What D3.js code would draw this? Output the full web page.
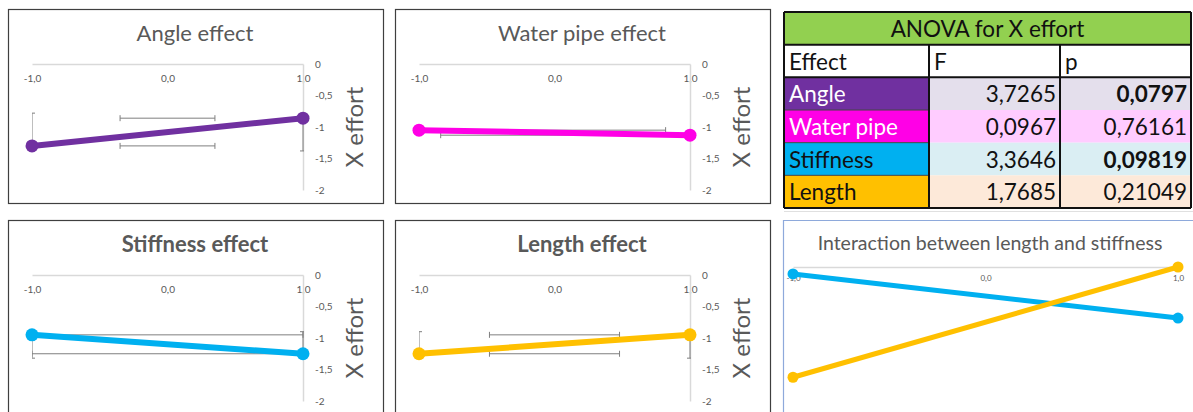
<!DOCTYPE html>
<html>
<head>
<meta charset="utf-8">
<script src="https://cdn.jsdelivr.net/npm/d3@7"></script>
<style>
  body { margin: 0; background: #fff; }
  svg { display: block; font-family: Lato, "Open Sans", sans-serif; }
</style>
</head>
<body>
<svg id="chart" width="1193" height="412"></svg>
<script>
// levels of each factor (coded)
const levels = [-1, 1];
const xTicks = [-1, 0, 1];
const yTicks = [0, -0.5, -1, -1.5, -2];

// mean X effort per level
const angleMeans = [-1.30, -0.86];
const pipeMeans = [-1.05, -1.13];
const stiffMeans = [-0.95, -1.25];
const lengthMeans = [-1.25, -0.95];

// error bars: vertical [from, to] per level, horizontal [x0, x1] per point
const angleErrY = [[-1.30, -0.78], [-0.86, -1.38]];
const angleErrX = [[-0.35, 0.35], [-0.35, 0.35]];
const pipeErrY = [];
const pipeErrX = [[-1, 0.82], [-0.84, 1]];
const stiffErrY = [[-0.95, -1.32], [-1.25, -0.90]];
const stiffErrX = [[-1, 1], [-1, 1]];
const lengthErrY = [[-1.25, -0.90], [-0.95, -1.32]];
const lengthErrX = [[-0.48, 0.48], [-0.48, 0.48]];

// interaction length x stiffness
const interStiff = [-0.11, -0.81];
const interLength = [-1.75, 0.0];

// ANOVA table
const effects = ['Angle', 'Water pipe', 'Stiffness', 'Length'];
const fValues = [3.7265, 0.0967, 3.3646, 1.7685];
const pValues = [0.0797, 0.76161, 0.09819, 0.21049];
const effectColors = ['#7030A0', '#FF00E6', '#00B0F0', '#FFC000'];
const effectText = ['#fff', '#fff', '#111', '#111'];
const cellColors = ['#E4DFEC', '#FFCCFF', '#DAEEF3', '#FDE9D9'];

const svg = d3.select('#chart');
const grey = '#595959';
const locale = d3.formatLocale({decimal: ',', thousands: '.', grouping: [3], currency: ['', ''], minus: '-'});
const fmtX = locale.format('.1f');
const fmtY = locale.format('~f');
const comma = (v) => String(v).replace('.', ',');

svg.append('rect').attr('width', 1193).attr('height', 412).attr('fill', '#fff');

let clipId = 0;

function drawEffect(box, title, bold, means, errY, errX, color) {
    const g = svg.append('g');
    g.append('rect')
        .attr('x', box.x + 0.5).attr('y', box.y + 0.5)
        .attr('width', box.w).attr('height', box.h)
        .attr('fill', '#fff').attr('stroke', '#3f3f3f').attr('stroke-width', 1.2);

    g.append('text')
        .attr('x', box.x + 187).attr('y', box.y + 32)
        .attr('text-anchor', 'middle')
        .attr('font-size', 22).attr('font-weight', bold ? 'bold' : 'normal')
        .attr('fill', grey)
        .text(title);

    const x = d3.scaleLinear().domain([-1, 1]).range([box.x + 24, box.x + 295]);
    const y = d3.scaleLinear().domain([0, -2]).range([box.y + 55, box.y + 181]);

    const xAxis = g.append('g')
        .attr('transform', `translate(0,${y(0)})`)
        .call(d3.axisBottom(x).tickValues(xTicks).tickSize(0).tickPadding(11).tickFormat(fmtX));
    const yAxis = g.append('g')
        .attr('transform', `translate(${x(1)},0)`)
        .call(d3.axisRight(y).tickValues(yTicks).tickSize(0).tickPadding(12).tickFormat(fmtY));
    [xAxis, yAxis].forEach((a) => {
        a.select('.domain').attr('stroke', '#d9d9d9').attr('stroke-width', 1.5);
        a.selectAll('text').attr('fill', grey).attr('font-size', 10).attr('font-family', 'Lato, sans-serif');
    });

    g.append('text')
        .attr('transform', `translate(${box.x + 345},${y(-1)}) rotate(-90)`)
        .attr('text-anchor', 'middle').attr('dominant-baseline', 'central')
        .attr('font-size', 24).attr('fill', grey)
        .text('X effort');

    const id = 'clip' + (clipId++);
    g.append('clipPath').attr('id', id)
        .append('rect').attr('x', x(-1)).attr('y', box.y).attr('width', x(1) - x(-1) + 1).attr('height', box.h);

    const err = g.append('g').attr('clip-path', `url(#${id})`)
        .attr('stroke', '#7f7f7f').attr('stroke-width', 1).attr('fill', 'none');
    errY.forEach((e, i) => {
        const cx = x(levels[i]);
        err.append('line').attr('x1', cx).attr('x2', cx).attr('y1', y(e[0])).attr('y2', y(e[1]));
        e.forEach((v) => err.append('line').attr('x1', cx - 3).attr('x2', cx + 3).attr('y1', y(v)).attr('y2', y(v)));
    });
    errX.forEach((e, i) => {
        const cy = y(means[i]);
        err.append('line').attr('x1', x(e[0])).attr('x2', x(e[1])).attr('y1', cy).attr('y2', cy);
        e.forEach((v) => err.append('line').attr('x1', x(v)).attr('x2', x(v)).attr('y1', cy - 3).attr('y2', cy + 3));
    });

    const pts = levels.map((l, i) => [l, means[i]]);
    g.append('path')
        .attr('d', d3.line().x((d) => x(d[0])).y((d) => y(d[1]))(pts))
        .attr('stroke', color).attr('stroke-width', 6).attr('fill', 'none');
    g.selectAll('circle.pt').data(pts).join('circle')
        .attr('cx', (d) => x(d[0])).attr('cy', (d) => y(d[1]))
        .attr('r', 6.5).attr('fill', color);
}

drawEffect({x: 8, y: 9, w: 375, h: 194}, 'Angle effect', false, angleMeans, angleErrY, angleErrX, '#7030A0');
drawEffect({x: 395, y: 9, w: 375, h: 194}, 'Water pipe effect', false, pipeMeans, pipeErrY, pipeErrX, '#FF00E6');
drawEffect({x: 8, y: 220, w: 375, h: 200}, 'Stiffness effect', true, stiffMeans, stiffErrY, stiffErrX, '#00B0F0');
drawEffect({x: 395, y: 220, w: 375, h: 200}, 'Length effect', true, lengthMeans, lengthErrY, lengthErrX, '#FFC000');

// ANOVA table
const cols = [784, 929, 1060, 1191];
const rowY = d3.scaleBand().domain(d3.range(6)).range([12, 208]);
const tbl = svg.append('g');
const rowH = rowY.bandwidth();
const fs = 22.5;

tbl.append('rect').attr('x', cols[0]).attr('y', rowY(0)).attr('width', cols[3] - cols[0]).attr('height', rowH).attr('fill', '#92D050');
tbl.append('text').attr('x', (cols[0] + cols[3]) / 2).attr('y', rowY(0) + 25)
    .attr('text-anchor', 'middle').attr('font-size', fs).attr('fill', '#111').text('ANOVA for X effort');

['Effect', 'F', 'p'].forEach((h, j) => {
    tbl.append('text').attr('x', cols[j] + 5).attr('y', rowY(1) + 25)
        .attr('font-size', fs).attr('fill', '#111').text(h);
});

effects.forEach((eff, i) => {
    const ry = rowY(i + 2);
    tbl.append('rect').attr('x', cols[0]).attr('y', ry).attr('width', cols[1] - cols[0]).attr('height', rowH).attr('fill', effectColors[i]);
    tbl.append('rect').attr('x', cols[1]).attr('y', ry).attr('width', cols[3] - cols[1]).attr('height', rowH).attr('fill', cellColors[i]);
    tbl.append('text').attr('x', cols[0] + 5).attr('y', ry + 25)
        .attr('font-size', fs).attr('fill', effectText[i]).text(eff);
    tbl.append('text').attr('x', cols[2] - 4).attr('y', ry + 25).attr('text-anchor', 'end')
        .attr('font-size', fs).attr('fill', '#111').text(comma(fValues[i]));
    tbl.append('text').attr('x', cols[3] - 4).attr('y', ry + 25).attr('text-anchor', 'end')
        .attr('font-size', fs).attr('fill', '#111')
        .attr('font-weight', pValues[i] < 0.1 ? 'bold' : 'normal')
        .text(comma(pValues[i]));
});

// table borders
const borderG = tbl.append('g').attr('stroke', '#111').attr('stroke-width', 2);
d3.range(7).forEach((r) => {
    const yy = r < 6 ? rowY(r) : rowY(5) + rowH;
    if (r === 3 || r === 4 || r === 5) {
        borderG.append('line').attr('x1', cols[0]).attr('x2', cols[1]).attr('y1', yy).attr('y2', yy).attr('stroke-width', 1).attr('stroke', '#444');
    } else {
        borderG.append('line').attr('x1', cols[0]).attr('x2', cols[3]).attr('y1', yy).attr('y2', yy);
    }
});
cols.forEach((cx, j) => {
    const top = (j === 0 || j === 3) ? rowY(0) : rowY(1);
    borderG.append('line').attr('x1', cx).attr('x2', cx).attr('y1', top).attr('y2', rowY(5) + rowH);
});
svg.append('line').attr('x1', 784).attr('x2', 1193).attr('y1', 211.5).attr('y2', 211.5).attr('stroke', '#e0e0e0');

// interaction chart
const ib = {x: 783, y: 220};
const ig = svg.append('g');
ig.append('path')
    .attr('d', `M${ib.x + 0.5},420V${ib.y + 0.5}H1193`)
    .attr('fill', 'none').attr('stroke', '#8EA9DB').attr('stroke-width', 1.2);
ig.append('text').attr('x', 990).attr('y', 250).attr('text-anchor', 'middle')
    .attr('font-size', 19.5).attr('fill', grey).text('Interaction between length and stiffness');

const ix = d3.scaleLinear().domain([-1, 1]).range([793, 1178]);
const iy = d3.scaleLinear().domain([0, -2]).range([267, 393]);
const ixAxis = ig.append('g').attr('transform', `translate(0,${iy(0)})`)
    .call(d3.axisBottom(ix).tickValues(xTicks).tickSize(0).tickPadding(8).tickFormat(fmtX));
ixAxis.select('.domain').attr('stroke', '#d9d9d9').attr('stroke-width', 1.5);
ixAxis.selectAll('text').attr('fill', grey).attr('font-size', 8).attr('font-family', 'Lato, sans-serif');

[[interStiff, '#00B0F0'], [interLength, '#FFC000']].forEach(([vals, color]) => {
    const pts = levels.map((l, i) => [l, vals[i]]);
    ig.append('path')
        .attr('d', d3.line().x((d) => ix(d[0])).y((d) => iy(d[1]))(pts))
        .attr('stroke', color).attr('stroke-width', 5).attr('fill', 'none');
    ig.selectAll(null).data(pts).join('circle')
        .attr('cx', (d) => ix(d[0])).attr('cy', (d) => iy(d[1]))
        .attr('r', 5.5).attr('fill', color);
});
</script>
</body>
</html>
